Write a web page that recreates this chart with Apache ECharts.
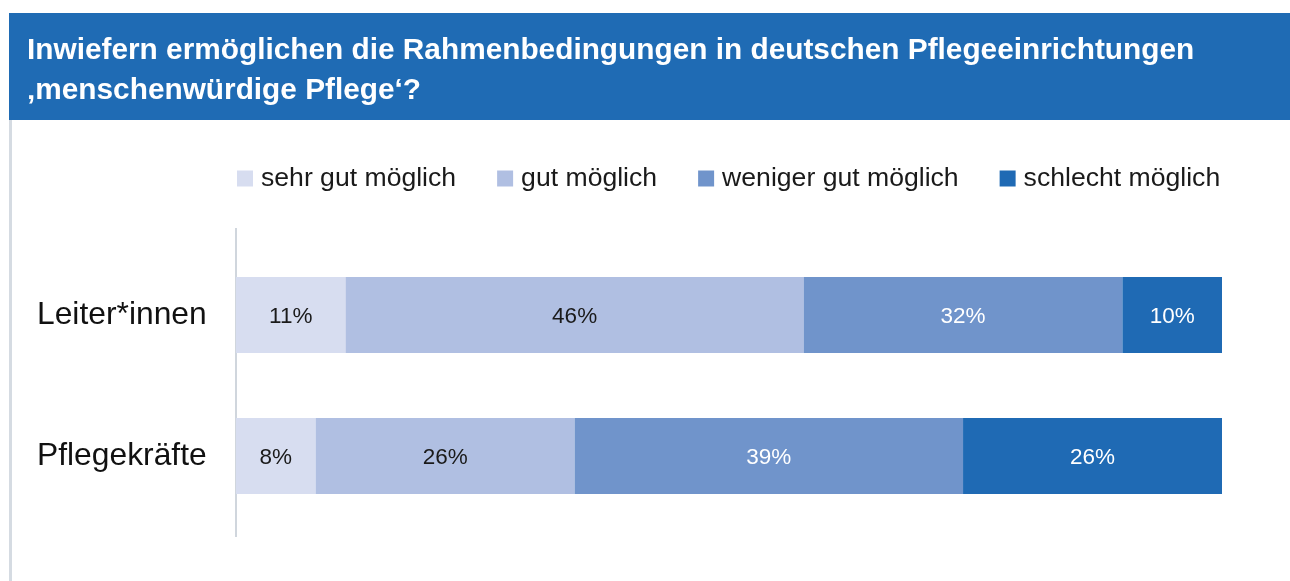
<!DOCTYPE html>
<html>
<head>
<meta charset="utf-8">
<script src="https://cdn.jsdelivr.net/npm/echarts@6/dist/echarts.min.js"></script>
<style>
  html, body { margin: 0; padding: 0; background: #fff; }
  #chart { width: 1290px; height: 581px; }
</style>
</head>
<body>
<div id="chart"></div>
<script>
const categories = ["Leiter*innen", "Pflegekräfte"];
const seriesNames = ["sehr gut möglich", "gut möglich", "weniger gut möglich", "schlecht möglich"];
const sehrGut = [11, 8];
const gut = [46, 26];
const wenigerGut = [32, 39];
const schlecht = [10, 26];

const colors = ["#d7ddf0", "#b0bfe2", "#7094cb", "#1f6ab4"];
const labelColors = ["#1a1a1a", "#1a1a1a", "#ffffff", "#ffffff"];
const font = "'Liberation Sans', Arial, sans-serif";

const chart = echarts.init(document.getElementById("chart"));

const series = [sehrGut, gut, wenigerGut, schlecht].map((values, i) => ({
  name: seriesNames[i],
  type: "bar",
  stack: "total",
  data: values,
  barWidth: 76,
  itemStyle: { color: colors[i] },
  label: {
    show: true,
    position: "inside",
    formatter: (p) => p.value + "%",
    color: labelColors[i],
    fontFamily: font,
    fontSize: 22.5,
    offset: [0, 2],
  },
}));

chart.setOption({
  animation: false,
  color: colors,
  graphic: [
    {
      type: "rect",
      shape: { x: 9, y: 13, width: 1281, height: 107 },
      style: { fill: "#1f6bb4" },
    },
    {
      type: "rect",
      shape: { x: 9, y: 120, width: 3, height: 461 },
      style: { fill: "#d5dbe2" },
    },
    {
      type: "rect",
      shape: { x: 235, y: 228, width: 2, height: 309 },
      style: { fill: "#d0d6dd" },
    },
    {
      type: "text",
      left: 27,
      top: 31,
      style: {
        text: "Inwiefern ermöglichen die Rahmenbedingungen in deutschen Pflegeeinrichtungen\n‚menschenwürdige Pflege‘?",
        fill: "#ffffff",
        font: "bold 29.8px " + font,
        lineHeight: 40,
      },
    },
  ],
  legend: {
    left: 232,
    top: 160,
    itemWidth: 16,
    itemHeight: 16,
    itemGap: 41,
    icon: "rect",
    textStyle: {
      fontFamily: font,
      fontSize: 26.6,
      color: "#1a1a1a",
      padding: [0, 0, 0, 3],
    },
    data: seriesNames,
  },
  grid: { left: 236, right: 68, top: 244.5, height: 282 },
  xAxis: { type: "value", min: 0, max: 99, show: false },
  yAxis: {
    type: "category",
    inverse: true,
    data: categories,
    axisLine: { show: false },
    axisTick: { show: false },
    axisLabel: {
      align: "left",
      margin: 199,
      color: "#111",
      fontFamily: font,
      fontSize: 31.8,
      padding: [4, 0, 0, 0],
    },
  },
  series: series,
});
</script>
</body>
</html>
